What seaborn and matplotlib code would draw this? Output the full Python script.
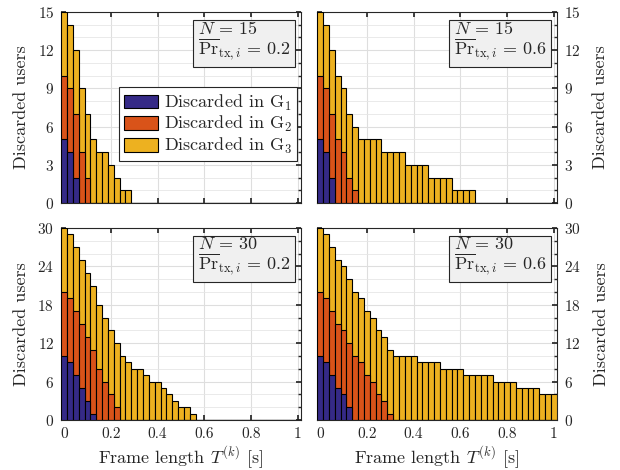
import numpy as np
import pandas as pd
import matplotlib
matplotlib.use("Agg")
import matplotlib.pyplot as plt
import seaborn as sns
from matplotlib.patches import Patch
from matplotlib.ticker import MultipleLocator

# ---------------- data ----------------
frame_length = np.round(np.linspace(0, 1, 41), 4)   # bin centres [s]
x_ticks = [0, 0.2, 0.4, 0.6, 0.8, 1]
x_ticklabels = ["0", "0.2", "0.4", "0.6", "0.8", "1"]

group_labels = [r"Discarded in G$_1$", r"Discarded in G$_2$", r"Discarded in G$_3$"]
group_colors = ["#352A87", "#D95319", "#EDB120"]

# N = 15, Pr = 0.2
tl_g1 = [5, 4, 2]
tl_g2 = [5, 5, 5, 4, 2]
tl_g3 = [5, 5, 5, 5, 5, 5, 4, 4, 3, 2, 1, 1]
# N = 15, Pr = 0.6
tr_g1 = [5, 4, 2]
tr_g2 = [5, 5, 5, 5, 4, 2, 1]
tr_g3 = [5, 5, 5, 5, 5, 5, 5, 5, 5, 5, 5, 4, 4, 4, 4, 3, 3, 3, 3, 2, 2, 2, 2, 1, 1, 1, 1]
# N = 30, Pr = 0.2
bl_g1 = [10, 9, 7, 5, 3, 1]
bl_g2 = [10, 10, 10, 10, 10, 10, 8, 6, 4, 2]
bl_g3 = [10, 10, 10, 10, 10, 10, 10, 10, 10, 10, 10, 9, 8, 8, 7, 6, 6, 5, 4, 3, 2, 2, 1]
# N = 30, Pr = 0.6
br_g1 = [10, 9, 7, 5, 4, 2]
br_g2 = [10, 10, 10, 10, 10, 10, 10, 9, 7, 6, 4, 3, 1]
br_g3 = [10, 10, 10, 10, 10, 10, 10, 10, 10, 10, 10, 10, 10, 10, 10, 10, 10,
         9, 9, 9, 9, 8, 8, 8, 8, 7, 7, 7, 7, 7, 6, 6, 6, 6, 5, 5, 5, 5, 4, 4, 4]

panels = [
    dict(N=15, pr="0.2", g=(tl_g1, tl_g2, tl_g3), ymax=15, ystep=3, minor=1),
    dict(N=15, pr="0.6", g=(tr_g1, tr_g2, tr_g3), ymax=15, ystep=3, minor=1),
    dict(N=30, pr="0.2", g=(bl_g1, bl_g2, bl_g3), ymax=30, ystep=6, minor=2),
    dict(N=30, pr="0.6", g=(br_g1, br_g2, br_g3), ymax=30, ystep=6, minor=2),
]


def pad(v):
    v = np.asarray(v, dtype=float)
    return np.pad(v, (0, len(frame_length) - len(v)))


# ---------------- style ----------------
sns.set_theme(style="white")
plt.rcParams.update({
    "font.family": "serif",
    "font.serif": ["cmr10", "DejaVu Serif"],
    "mathtext.fontset": "cm",
    "axes.formatter.use_mathtext": True,
    "axes.unicode_minus": False,
    "axes.edgecolor": "#262626",
    "axes.linewidth": 0.8,
    "xtick.color": "#262626",
    "ytick.color": "#262626",
    "text.color": "#262626",
    "axes.labelcolor": "#262626",
})

fig = plt.figure(figsize=(6.2, 4.7), dpi=100)
W, H = 620, 470
boxes = [(61, 12, 240, 191), (317, 12, 240, 191), (61, 228, 240, 192), (317, 228, 240, 192)]
axes = []
for (l, t, w, h) in boxes:
    axes.append(fig.add_axes([l / W, 1 - (t + h) / H, w / W, h / H]))

for i, (ax, p) in enumerate(zip(axes, panels)):
    g1, g2, g3 = (pad(v) for v in p["g"])
    layers = [g1 + g2 + g3, g1 + g2, g1]
    cols = [group_colors[2], group_colors[1], group_colors[0]]
    for vals, c in zip(layers, cols):
        sns.barplot(x=frame_length, y=vals, native_scale=True, width=1,
                    color=c, saturation=1, edgecolor="black", linewidth=0.8,
                    errorbar=None, ax=ax, zorder=3)
    ax.set_xlim(-0.0135, 1.0135)
    ax.set_ylim(0, p["ymax"])
    ax.set_xticks(x_ticks)
    ax.set_yticks(np.arange(0, p["ymax"] + 1, p["ystep"]))
    ax.yaxis.set_minor_locator(MultipleLocator(p["minor"]))
    ax.set_axisbelow(True)
    ax.grid(True, which="major", color="#dedede", linewidth=0.8)
    ax.grid(True, which="minor", axis="y", color="#e6e6e6", linewidth=0.6)
    ax.tick_params(which="both", direction="in", top=True, bottom=True,
                   left=True, right=True, labelsize=11, pad=5)
    ax.tick_params(which="major", length=3.5)
    ax.tick_params(which="minor", length=2)
    for s in ax.spines.values():
        s.set_visible(True)
        s.set_color("#262626")
        s.set_linewidth(0.8)

    if i < 2:
        ax.tick_params(labelbottom=False)
        ax.set_xlabel("")
    else:
        ax.set_xticklabels(x_ticklabels)
        ax.set_xlabel(r"Frame length $T^{(k)}$ [s]", fontsize=13, labelpad=3)

    if i % 2 == 1:
        ax.tick_params(axis="y", which="both", labelleft=False, labelright=True)
        ax.yaxis.set_label_position("right")
        ax.set_ylabel("Discarded users", fontsize=13, labelpad=9)
    else:
        ax.set_ylabel("Discarded users", fontsize=13, labelpad=6)

    txt = (r"$N\,=\,%d$" % p["N"] + "\n"
           + r"$\overline{\mathrm{Pr}}_{\mathrm{tx},i}\,=\,%s$" % p["pr"])
    ax.text(0.957, 0.958, txt, transform=ax.transAxes, ha="right", va="top",
            multialignment="left", fontsize=13, zorder=6, linespacing=0.95,
            bbox=dict(boxstyle="square,pad=0.25", fc="#f0f0f0", ec="#262626", lw=0.8))

handles = [Patch(facecolor=c, edgecolor="black", linewidth=0.8) for c in group_colors]
leg = axes[0].legend(handles, group_labels, loc="upper right", bbox_to_anchor=(0.985, 0.605),
                     frameon=True, fancybox=False, edgecolor="#262626", framealpha=1,
                     fontsize=13, handlelength=1.85, handleheight=0.8, labelspacing=0.08,
                     borderpad=0.3, handletextpad=0.35, borderaxespad=0)
leg.get_frame().set_linewidth(0.8)
leg.set_zorder(7)

fig.savefig("out.png", dpi=100)
